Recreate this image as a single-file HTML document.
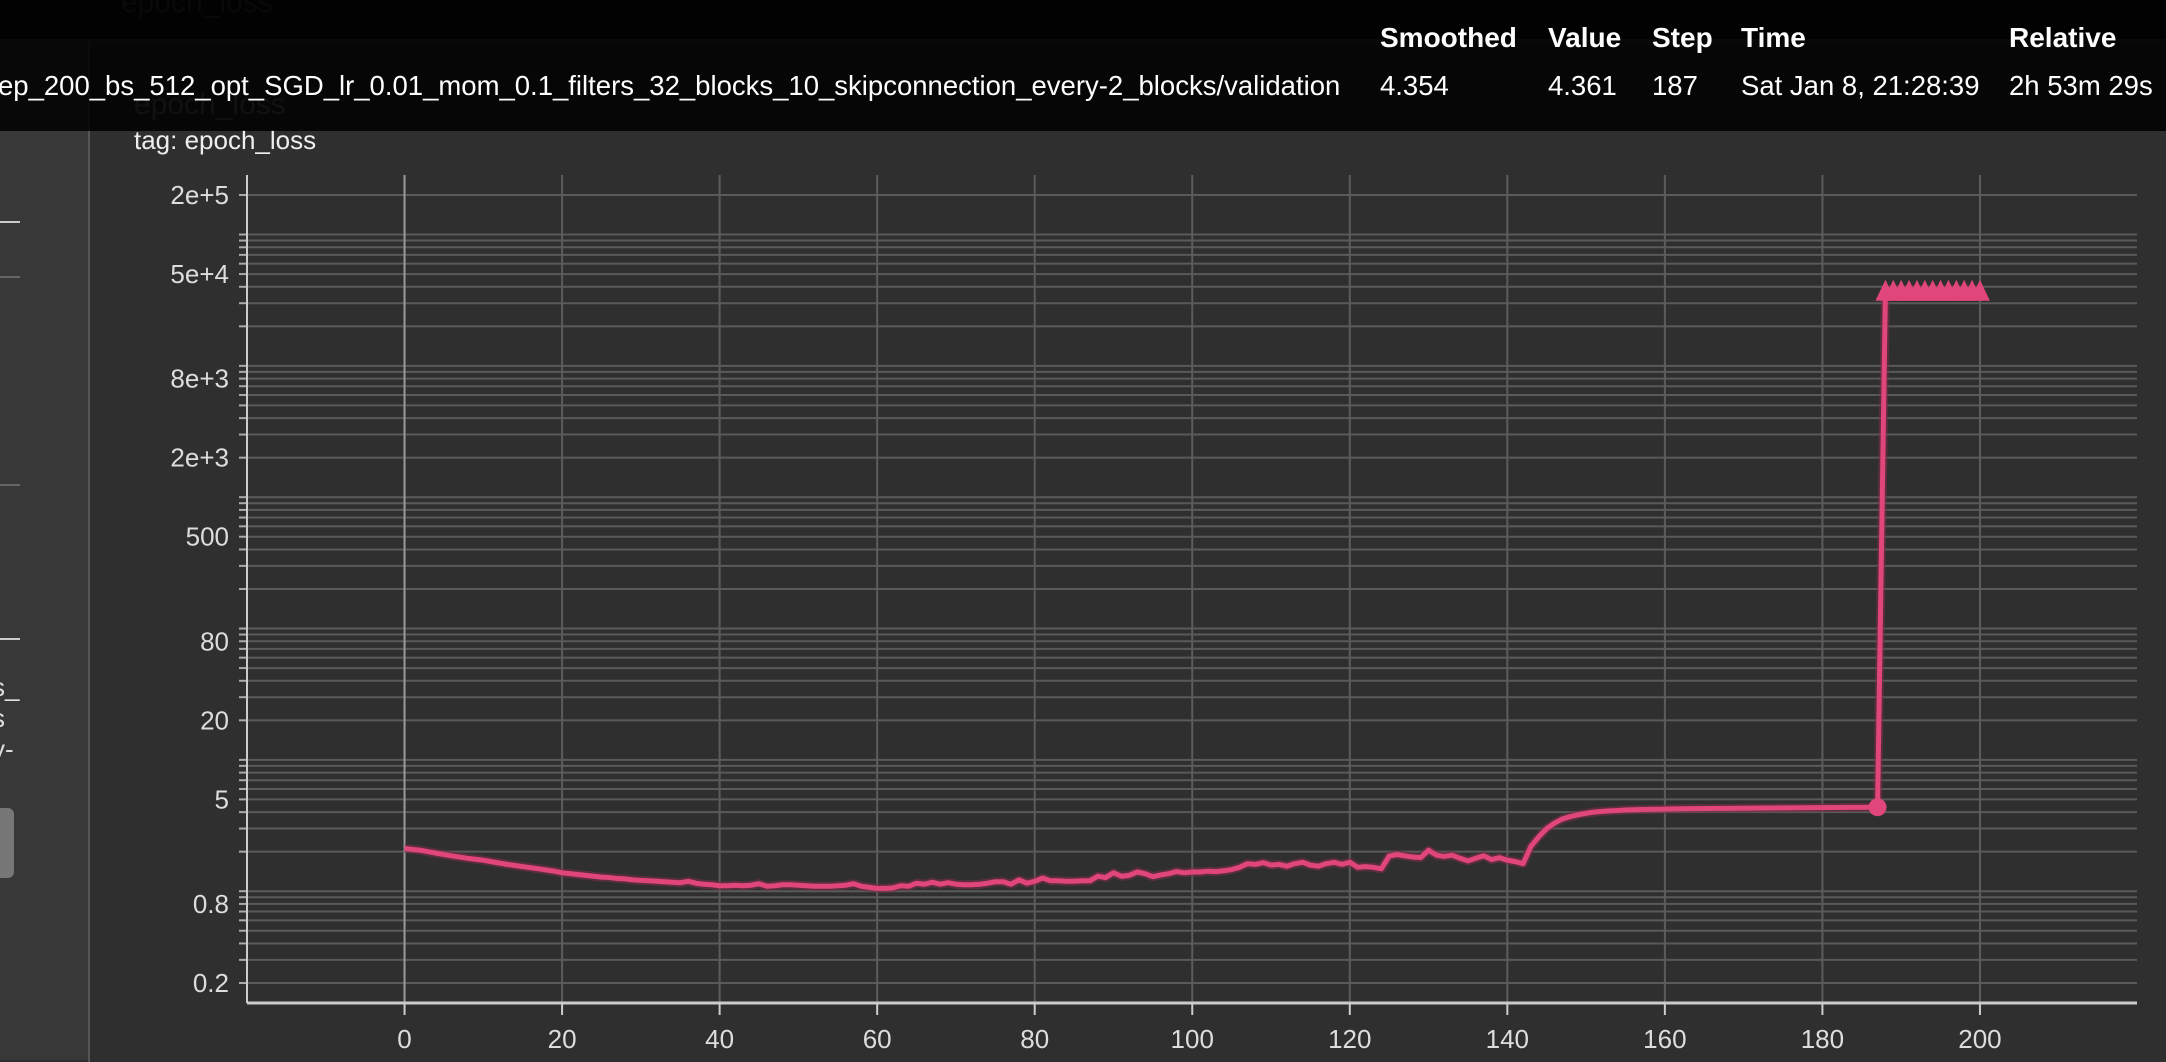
<!DOCTYPE html>
<html><head><meta charset="utf-8"><style>
html,body{margin:0;padding:0;width:2166px;height:1060px;overflow:hidden;background:#2f2f2f;font-family:"Liberation Sans",sans-serif;}
#sidebar{position:absolute;left:0;top:0;width:88px;height:1060px;background:#383838;}
#card{position:absolute;left:88px;top:39px;width:2078px;height:1021px;background:#2f2f2f;border-left:2px solid #555;border-top:2px solid #444;}
#topstrip{position:absolute;left:0;top:0;width:2166px;height:39px;background:#0f0f0f;}
#tooltip{position:absolute;left:0;top:0;width:2166px;height:131px;background:rgba(0,0,0,0.86);}
.t{position:absolute;color:#fff;font-size:27.5px;white-space:nowrap;}
.h{font-weight:bold;font-size:28px;}
</style></head><body>
<div id="sidebar">
  <div style="position:absolute;left:0;top:221px;width:20px;height:2px;background:#ccc"></div>
  <div style="position:absolute;left:0;top:276px;width:20px;height:2px;background:#666"></div>
  <div style="position:absolute;left:0;top:484px;width:20px;height:2px;background:#666"></div>
  <div style="position:absolute;left:0;top:638px;width:20px;height:2px;background:#ccc"></div>
  <div style="position:absolute;left:-8px;top:672px;color:#ddd;font-size:26px;line-height:31px">s_<br>s<br>y-</div>
  <div style="position:absolute;left:-10px;top:808px;width:24px;height:70px;border-radius:6px;background:#777"></div>
</div>
<div id="topstrip">
  <div style="position:absolute;left:121px;top:-14px;color:#444;font-size:30px">epoch_loss</div>
</div>
<div id="card"></div>
<div class="t" style="left:134px;top:88px;color:#777;font-size:30px">epoch_loss</div>
<div class="t" style="left:134px;top:125px;font-size:26px;color:#eee">tag: epoch_loss</div>
<svg id="chart" width="2166" height="1060" style="position:absolute;left:0;top:0"></svg>
<div id="tooltip">
  <div class="t h" style="left:1380px;top:22px">Smoothed</div>
  <div class="t h" style="left:1548px;top:22px">Value</div>
  <div class="t h" style="left:1652px;top:22px">Step</div>
  <div class="t h" style="left:1741px;top:22px">Time</div>
  <div class="t h" style="left:2009px;top:22px">Relative</div>
  <div class="t" style="left:-2px;top:70px">ep_200_bs_512_opt_SGD_lr_0.01_mom_0.1_filters_32_blocks_10_skipconnection_every-2_blocks/validation</div>
  <div class="t" style="left:1380px;top:70px">4.354</div>
  <div class="t" style="left:1548px;top:70px">4.361</div>
  <div class="t" style="left:1652px;top:70px">187</div>
  <div class="t" style="left:1741px;top:70px">Sat Jan 8, 21:28:39</div>
  <div class="t" style="left:2009px;top:70px">2h 53m 29s</div>
</div>
<script>
const values=[2.12,2.08,2.05,2.0,1.95,1.90,1.86,1.82,1.78,1.75,1.72,1.68,1.64,1.60,1.57,1.54,1.51,1.48,1.45,1.42,1.38,
1.36,1.34,1.32,1.30,1.28,1.27,1.25,1.24,1.22,1.21,1.20,1.19,1.18,1.17,1.16,1.19,1.15,1.13,1.12,1.10,
1.10,1.11,1.10,1.11,1.14,1.09,1.10,1.12,1.12,1.11,1.10,1.09,1.09,1.09,1.10,1.11,1.14,1.09,1.07,1.05,
1.05,1.06,1.10,1.09,1.15,1.13,1.17,1.13,1.16,1.13,1.12,1.12,1.13,1.15,1.18,1.18,1.13,1.22,1.15,1.19,
1.26,1.20,1.20,1.19,1.19,1.20,1.20,1.30,1.27,1.38,1.30,1.32,1.40,1.36,1.29,1.33,1.36,1.41,1.38,1.40,
1.40,1.42,1.41,1.43,1.46,1.52,1.62,1.60,1.65,1.58,1.60,1.55,1.62,1.66,1.58,1.55,1.62,1.66,1.60,1.66,
1.52,1.54,1.52,1.48,1.85,1.90,1.86,1.82,1.80,2.05,1.88,1.84,1.88,1.78,1.70,1.78,1.86,1.74,1.80,1.72,1.68,1.62,
2.2,2.6,3.0,3.3,3.55,3.7,3.82,3.92,4.0,4.05,4.09,4.12,4.15,4.17,4.19,4.2,4.21,4.22,
4.23,4.24,4.25,4.25,4.26,4.26,4.27,4.27,4.28,4.28,4.29,4.29,4.30,4.30,4.31,4.31,4.32,4.32,4.33,4.33,
4.34,4.34,4.35,4.35,4.35,4.36,4.36];
const spikeValues=[38000,38000,38000,38000,38000,38000,38000,38000,38000,38000,38000,38000,38000];
const xTicks=[0,20,40,60,80,100,120,140,160,180,200];
const yTickValues=[2e5,5e4,8e3,2e3,500,80,20,5,0.8,0.2];
const yTickLabels=["2e+5","5e+4","8e+3","2e+3","500","80","20","5","0.8","0.2"];
const highlightStep=187;

const NS="http://www.w3.org/2000/svg";
const svg=document.getElementById('chart');
const L=247,R=2137,T=175,B=1003;
const xMin=-20,xMax=(R-405)/7.875;
const lMin=-0.699-20/131.3,lMax=5.301+20/131.3;
function X(s){return L+(s-xMin)/(xMax-xMin)*(R-L);}
function Y(v){return B-(Math.log10(v)-lMin)/(lMax-lMin)*(B-T);}
function mk(tag,attrs){const e=document.createElementNS(NS,tag);for(const k in attrs)e.setAttribute(k,attrs[k]);svg.appendChild(e);return e;}

for(let k=-1;k<=5;k++){for(let m=1;m<=9;m++){const v=m*Math.pow(10,k);const y=Y(v);if(y<T||y>B)continue;
 const g=mk('line',{x1:L,x2:R,y1:y,y2:y,stroke:'#5a5a5a','stroke-width':2});
 
 
 const tk=mk('line',{x1:L-8,x2:L,y1:y,y2:y,stroke:'#aaa','stroke-width':2});
 
 
}}
xTicks.forEach(s=>{const x=X(s);
 const g=mk('line',{x1:x,x2:x,y1:T,y2:B,stroke:s===0?'#9a9a9a':'#5c5c5c','stroke-width':2});
 
 
 const tk=mk('line',{x1:x,x2:x,y1:B,y2:B+12,stroke:'#ccc','stroke-width':2});
 
 
 const t=mk('text',{x:x,y:1048,fill:'#ddd','font-size':26,'text-anchor':'middle','font-family':'Liberation Sans, sans-serif'});
 t.textContent=s;
 
 
});
const ax=mk('line',{x1:L,x2:R,y1:B,y2:B,stroke:'#ccc','stroke-width':3});


const ay=mk('line',{x1:L,x2:L,y1:T,y2:B,stroke:'#ccc','stroke-width':2});


yTickValues.forEach((v,i)=>{const y=Y(v);
 const t=mk('text',{x:229,y:y+9,fill:'#ddd','font-size':26,'text-anchor':'end','font-family':'Liberation Sans, sans-serif'});
 t.textContent=yTickLabels[i];
 
 
});
let pts=values.map((v,i)=>[X(i),Y(v)]);
spikeValues.forEach((v,j)=>pts.push([X(values.length+j),Y(v)]));
const raw=mk('polyline',{points:pts.map(p=>p.join(',')).join(' '),fill:'none',stroke:'#7a2f4a','stroke-width':9,'stroke-opacity':0.6,'stroke-linejoin':'round'});


const line=mk('polyline',{points:pts.map(p=>p.join(',')).join(' '),fill:'none',stroke:'#e0457b','stroke-width':5,'stroke-linejoin':'round'});


spikeValues.forEach((v,j)=>{const x=X(values.length+j),y=Y(v);
 const tr=mk('polygon',{points:`${x-10},${y+11} ${x+10},${y+11} ${x},${y-10}`,fill:'#e0457b'});
 
 
});
const c=mk('circle',{cx:X(highlightStep),cy:Y(values[highlightStep]),r:9,fill:'#e0457b'});


</script>
</body></html>
